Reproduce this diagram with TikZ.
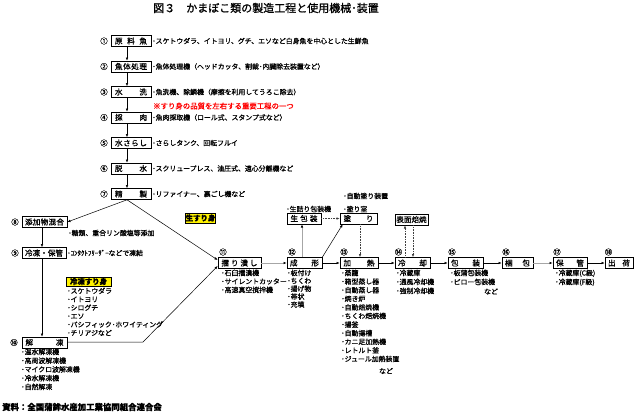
\documentclass[tikz,border=0pt]{standalone}
\usepackage{fontspec}
\setmainfont{Noto Sans CJK JP}[FakeBold=1]
\usetikzlibrary{arrows.meta,shadows}
\newcommand\spd[2]{\makebox[#1pt]{#2}}
\begin{document}
\begin{tikzpicture}[x=1pt,y=-1pt,
 box/.style={draw,line width=0.6pt,fill=white,inner sep=0pt,minimum height=11pt,font=\fontsize{7.6}{9}\selectfont,
   drop shadow={shadow xshift=0.9pt,shadow yshift=-0.9pt,fill=black!45,opacity=1}},
 lbl/.style={inner sep=0pt,font=\fontsize{6.9}{8}\selectfont,anchor=west},
 lst/.style={inner sep=0pt,anchor=north west,align=left},
 num/.style={inner sep=0pt,font=\fontsize{7.4}{8}\selectfont},
 arr/.style={-{Latex[length=3.2pt,width=2.6pt]},line width=0.5pt},
 garr/.style={-{Latex[length=3.2pt,width=2.6pt,color=black]},line width=1pt,draw=black!35},
 darr/.style={-{Latex[length=3.2pt,width=2.6pt]},line width=0.6pt,densely dotted,draw=black!75},
 ylw/.style={draw,fill=yellow,inner sep=0pt,line width=0.5pt,font=\bfseries\fontsize{7.4}{8}\selectfont}]
\useasboundingbox (0,0) rectangle (640,413);

% title
\node[inner sep=0pt,font=\fontsize{11}{12}\selectfont] (title) at (266,8) {図３　かまぼこ類の製造工程と使用機械･装置};

% main column
\node[box,minimum width=40pt] (b1) at (131,41) {\spd{32}{原\hfill 料\hfill 魚}};
\node[box,minimum width=40pt] (b2) at (131,66.5) {\spd{32}{魚\hfill 体\hfill 処\hfill 理}};
\node[box,minimum width=40pt] (b3) at (131,92) {\spd{32}{水\hfill 洗}};
\node[box,minimum width=40pt] (b4) at (131,117.5) {\spd{32}{採\hfill 肉}};
\node[box,minimum width=40pt] (b5) at (131,143) {\spd{32}{水\hfill さ\hfill ら\hfill し}};
\node[box,minimum width=40pt] (b6) at (131,168.5) {\spd{32}{脱\hfill 水}};
\node[box,minimum width=40pt] (b7) at (131,194) {\spd{32}{精\hfill 製}};

\node[num] (n1) at (104,41) {①};
\node[num] (n2) at (104,66.5) {②};
\node[num] (n3) at (104,92) {③};
\node[num] (n4) at (104,117.5) {④};
\node[num] (n5) at (104,143) {⑤};
\node[num] (n6) at (104,168.5) {⑥};
\node[num] (n7) at (104,194) {⑦};

\node[lbl] (l1) at (152,41) {･スケトウダラ、イトヨリ、グチ、エソなど白身魚を中心とした生鮮魚};
\node[lbl] (l2) at (152,66.5) {･魚体処理機（ヘッドカッタ、割裁･内臓除去装置など）};
\node[lbl] (l3) at (152,92) {･魚洗機、除鱗機（摩擦を利用してうろこ除去）};
\node[lbl,text=red,font=\fontsize{7.4}{8}\selectfont] (red) at (153,106) {※すり身の品質を左右する重要工程の一つ};
\node[lbl] (l4) at (152,117.5) {･魚肉採取機（ロール式、スタンプ式など）};
\node[lbl] (l5) at (152,143) {･さらしタンク、回転フルイ};
\node[lbl] (l6) at (152,168.5) {･スクリュープレス、油圧式、遠心分離機など};
\node[lbl] (l7) at (152,194) {･リファイナー、裏ごし機など};

\foreach \a/\b in {b1/b2,b2/b3,b3/b4,b4/b5,b5/b6,b6/b7}
  \draw[arr] ([xshift=-4pt]\a.south) -- ([xshift=-4pt]\b.north);

% left column
\node[box,minimum width=45pt] (b8) at (44.5,222) {\spd{39}{添\hfill 加\hfill 物\hfill 混\hfill 合}};
\node[box,minimum width=44pt] (b9) at (44,253) {\spd{38}{冷\hfill 凍\hfill ・\hfill 保\hfill 管}};
\node[box,minimum width=45pt] (b10) at (44.5,342.5) {\spd{38}{解\hfill 凍}};
\node[num] (n8) at (15,222) {⑧};
\node[num] (n9) at (15,253) {⑨};
\node[num] (n10) at (14,342.5) {⑩};
\node[lbl] (l8) at (68,233) {･糖類、重合リン酸塩等添加};
\node[lbl] (l9) at (67,253) {･ｺﾝﾀｸﾄﾌﾘｰｻﾞｰなどで凍結};

\node[ylw,minimum width=45pt,minimum height=9pt] (yr) at (88.5,281.5) {冷凍すり身};
\node[lst,font=\fontsize{6.9}{8.4}\selectfont] (lr) at (67,287.5) {･スケトウダラ\\･イトヨリ\\･シログチ\\･エソ\\･パシフィック･ホワイティング\\･チリアジなど};
\node[lst,font=\fontsize{6.9}{8.75}\selectfont] (l10) at (21,348.5) {･温水解凍機\\･高周波解凍機\\･マイクロ波解凍機\\･冷水解凍機\\･自然解凍};

\node[ylw,minimum width=29pt,minimum height=10pt] (yn) at (200.5,218) {生すり身};

% row
\node[box,minimum width=43pt] (b11) at (239.5,263) {\spd{36}{擂\hfill り\hfill 潰\hfill し}};
\node[box,minimum width=35pt] (b12) at (304.5,263) {\spd{29}{成\hfill 形}};
\node[box,minimum width=38pt] (b13) at (359,263) {\spd{31}{加\hfill 熱}};
\node[box,minimum width=35pt] (b14) at (412.5,263) {\spd{29}{冷\hfill 却}};
\node[box,minimum width=35pt] (b15) at (465.5,263) {\spd{29}{包\hfill 装}};
\node[box,minimum width=31pt] (b16) at (517.5,263) {\spd{25}{梱\hfill 包}};
\node[box,minimum width=34pt] (b17) at (570,263) {\spd{28}{保\hfill 管}};
\node[box,minimum width=28pt] (b18) at (619,263) {\spd{22}{出\hfill 荷}};
\node[box,minimum width=34pt] (bnama) at (304,218.5) {\spd{27}{生\hfill 包\hfill 装}};
\node[box,minimum width=37pt] (bnuri) at (358.5,218.5) {\spd{30}{塗\hfill り}};
\node[box,minimum width=33pt] (bhyo) at (411.5,219.5) {\spd{29}{表面焙焼}};

\node[num] (n11) at (223,252) {⑪};
\node[num] (n12) at (292,252) {⑫};
\node[num] (n13) at (344,252) {⑬};
\node[num] (n14) at (398.5,252) {⑭};
\node[num] (n15) at (452,252) {⑮};
\node[num] (n16) at (506,252) {⑯};
\node[num] (n17) at (557,252) {⑰};
\node[num] (n18) at (608.5,252) {⑱};

\node[lbl] (lnuri1) at (343,196) {･自動塗り装置};
\node[lbl] (lnuri2) at (343,209) {･塗り室};
\node[lbl] (lnama) at (286,209) {･生詰り包装機};

\node[lst,font=\fontsize{6.9}{8.5}\selectfont] (l11) at (221,269.5) {･石臼擂潰機\\･サイレントカッター\\･高速真空撹拌機};
\node[lst,font=\fontsize{6.9}{7.9}\selectfont] (l12) at (287,269.5) {･板付け\\･ちくわ\\･揚げ物\\･帯状\\･充填};
\node[lst,font=\fontsize{6.9}{8.6}\selectfont] (l13) at (341,269.5) {･蒸籠\\･箱型蒸し器\\･自動蒸し器\\･焼き炉\\･自動焙焼機\\･ちくわ焙焼機\\･揚釜\\･自動揚槽\\･カニ足加熱機\\･レトルト釜\\･ジュール加熱装置};
\node[lbl,anchor=center] (l13b) at (386,371) {など};
\node[lst,font=\fontsize{6.9}{9}\selectfont] (l14) at (396,269.5) {･冷蔵庫\\･通風冷却機\\･強制冷却機};
\node[lst,font=\fontsize{6.9}{9}\selectfont] (l15) at (450,269.5) {･板蒲包装機\\･ピロー包装機};
\node[lbl,anchor=center] (l15b) at (491,291.5) {など};
\node[lst,font=\fontsize{6.9}{9}\selectfont] (l17) at (555,269.5) {･冷蔵庫(C級)\\･冷蔵庫(F級)};

% source
\node[lbl,font=\bfseries\fontsize{8.4}{9}\selectfont] (src) at (2,407) {資料：全国蒲鉾水産加工業協同組合連合会};

% connectors
\draw[arr] ([xshift=-4pt]b7.south) -- (b8.east);
\draw[arr] ([xshift=-4pt]b7.south) -- ([yshift=3pt]b11.west);
\draw[arr] ([xshift=-2.5pt]b8.south) -- ([xshift=-2pt]b9.north);
\draw[arr] ([xshift=-2pt]b9.south) -- ([xshift=-2.5pt]b10.north);
\coordinate (k) at (143,342);
\draw[arr] (b10.east |- k) -- (k) -- ([yshift=-3pt]b11.west);

\draw[garr] (b11.east) -- (b12.west);
\draw[arr] (b12.east) -- (b13.west);
\draw[arr] (b13.east) -- (b14.west);
\draw[arr] (b14.east) -- (b15.west);
\draw[arr] (b15.east) -- (b16.west);
\draw[garr] (b16.east) -- (b17.west);
\draw[arr] (b17.east) -- (b18.west);

\draw[garr] ([xshift=-2.5pt]b12.north) -- ([xshift=-2pt]bnama.south);
\draw[arr] (b12.north east) -- ([xshift=3pt]bnuri.south west);
\draw[darr] (bnama.east) -- (bnuri.west);
\draw[darr] ([xshift=1.5pt]bnuri.south) -- ([xshift=1pt]b13.north);
\draw[darr] ([xshift=-7.5pt]b14.north) -- ([xshift=-6.5pt]bhyo.south);
\draw[darr] ([xshift=1.5pt]bhyo.south) -- ([xshift=0.5pt]b14.north);
\end{tikzpicture}
\end{document}
